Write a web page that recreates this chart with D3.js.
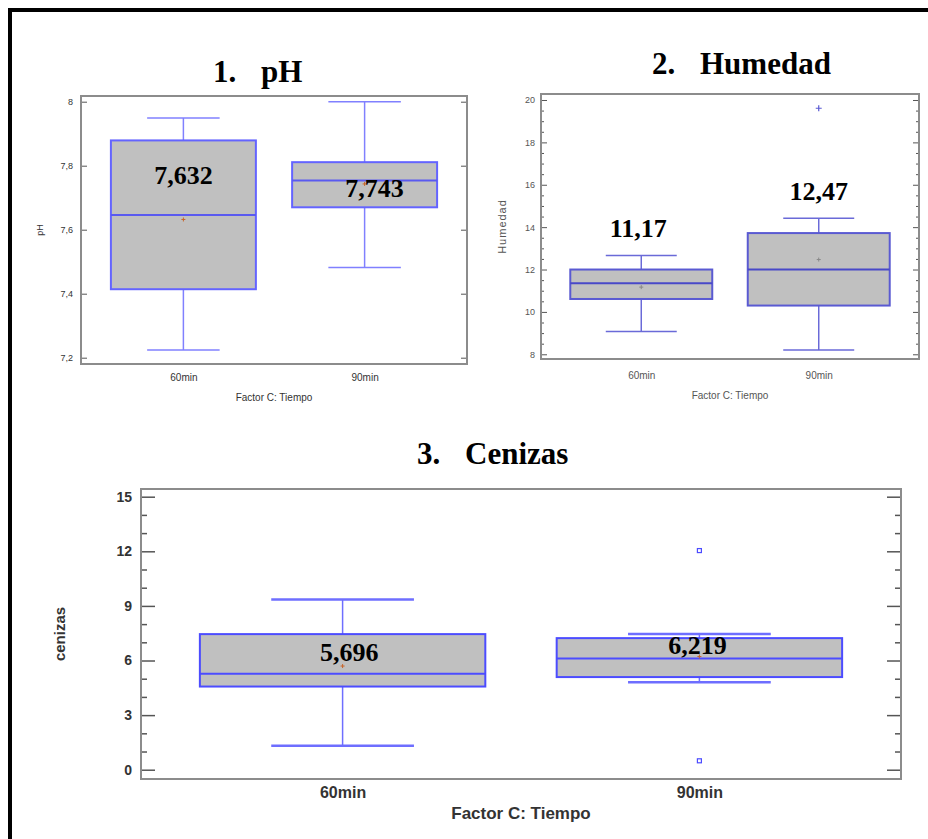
<!DOCTYPE html>
<html>
<head>
<meta charset="utf-8">
<script src="https://cdn.jsdelivr.net/npm/d3@7"></script>
<style>
  body { margin: 0; background: #fff; }
  svg { display: block; }
</style>
</head>
<body>
<svg id="chart" width="928" height="839"></svg>
<script>
const groups = ['60min', '90min'];

// each box: [low whisker, Q1, median, Q3, high whisker]
const phBoxes = [[7.224, 7.414, 7.646, 7.879, 7.949], [7.482, 7.670, 7.754, 7.811, 8.0]];
const phMeans = [7.632, 7.743];
const phOutliers = [[], []];
const phTicks = [7.2, 7.4, 7.6, 7.8, 8];

const humBoxes = [[9.08, 10.61, 11.35, 12.0, 12.66], [8.2, 10.3, 12.0, 13.72, 14.42]];
const humMeans = [11.17, 12.47];
const humOutliers = [[], [19.61]];
const humTicks = [8, 10, 12, 14, 16, 18, 20];

const cenBoxes = [[1.32, 4.57, 5.27, 7.45, 9.35], [4.81, 5.09, 6.11, 7.23, 7.46]];
const cenMeans = [5.696, 6.219];
const cenOutliers = [[], [12.04, 0.49]];
const cenTicks = [0, 3, 6, 9, 12, 15];

const comma = v => String(v).replace('.', ',');

const svg = d3.select('#chart');

// outer document frame (only top and left edges fall inside the page)
svg.append('path')
  .attr('d', 'M10,839V10H928')
  .attr('fill', 'none')
  .attr('stroke', '#000')
  .attr('stroke-width', 4);

function boxChart(cfg) {
  const g = svg.append('g');
  const x = d3.scalePoint().domain(groups).range([cfg.left, cfg.right]).padding(0.565);
  const y = d3.scaleLinear().domain(cfg.domain).range([cfg.bottom, cfg.top]);
  const bw = x.step() * 0.8;
  const cap = bw / 4;

  // title, Word-style numbered heading
  g.append('text')
    .attr('x', cfg.titleX).attr('y', cfg.titleY)
    .attr('font-family', 'Liberation Serif, Times New Roman, serif')
    .attr('font-weight', 'bold').attr('font-size', 31)
    .text(cfg.number);
  g.append('text')
    .attr('x', cfg.titleX + 48).attr('y', cfg.titleY)
    .attr('font-family', 'Liberation Serif, Times New Roman, serif')
    .attr('font-weight', 'bold').attr('font-size', 31)
    .text(cfg.title);

  // left axis with labels, ticks pointing into the plot
  const left = g.append('g')
    .attr('transform', `translate(${cfg.left},0)`)
    .call(d3.axisLeft(y).tickValues(cfg.ticks).tickSize(-cfg.major)
      .tickPadding(cfg.tickPad).tickFormat(comma));
  left.select('.domain').remove();
  left.selectAll('.tick line').attr('stroke', '#555').attr('stroke-width', cfg.tickWidth);
  left.selectAll('.tick text')
    .attr('fill', cfg.textColor)
    .attr('font-family', cfg.font)
    .attr('font-weight', cfg.weight)
    .attr('font-size', cfg.tickFont);

  const right = g.append('g')
    .attr('transform', `translate(${cfg.right},0)`)
    .call(d3.axisRight(y).tickValues(cfg.ticks).tickSize(-cfg.major).tickFormat(''));
  right.select('.domain').remove();
  right.selectAll('.tick line').attr('stroke', '#555').attr('stroke-width', cfg.tickWidth);

  if (cfg.minorCount) {
    const minor = y.ticks(cfg.minorCount).filter(t => !cfg.ticks.includes(t));
    [[d3.axisLeft, cfg.left], [d3.axisRight, cfg.right]].forEach(([axis, pos]) => {
      const m = g.append('g')
        .attr('transform', `translate(${pos},0)`)
        .call(axis(y).tickValues(minor).tickSize(-cfg.minor).tickFormat(''));
      m.select('.domain').remove();
      m.selectAll('.tick line').attr('stroke', '#555').attr('stroke-width', cfg.tickWidth);
    });
  }

  // category axis
  const bottom = g.append('g')
    .attr('transform', `translate(0,${cfg.bottom})`)
    .call(d3.axisBottom(x).tickSize(0).tickPadding(cfg.catPad));
  bottom.select('.domain').remove();
  bottom.selectAll('.tick text')
    .attr('fill', cfg.textColor)
    .attr('font-family', cfg.font)
    .attr('font-weight', cfg.weight)
    .attr('font-size', cfg.catFont);

  // axis titles
  g.append('text')
    .attr('x', (cfg.left + cfg.right) / 2)
    .attr('y', cfg.bottom + cfg.xTitleOffset)
    .attr('text-anchor', 'middle')
    .attr('fill', cfg.textColor)
    .attr('font-family', cfg.font)
    .attr('font-weight', cfg.weight)
    .attr('font-size', cfg.xTitleFont)
    .text('Factor C: Tiempo');
  g.append('text')
    .attr('transform', `translate(${cfg.yTitleX},${(cfg.top + cfg.bottom) / 2}) rotate(-90)`)
    .attr('text-anchor', 'middle')
    .attr('dominant-baseline', 'central')
    .attr('fill', cfg.textColor)
    .attr('font-family', cfg.font)
    .attr('font-weight', cfg.weight)
    .attr('font-size', cfg.yTitleFont)
    .attr('letter-spacing', cfg.yTitleSpacing || 0)
    .text(cfg.yTitle);

  // boxes
  cfg.boxes.forEach((b, i) => {
    const cx = x(groups[i]);
    const [lo, q1, med, q3, hi] = b;
    const bx = g.append('g');
    bx.append('line')
      .attr('x1', cx).attr('x2', cx).attr('y1', y(q3)).attr('y2', y(hi))
      .attr('stroke', cfg.whisker).attr('stroke-width', 1.5);
    bx.append('line')
      .attr('x1', cx).attr('x2', cx).attr('y1', y(q1)).attr('y2', y(lo))
      .attr('stroke', cfg.whisker).attr('stroke-width', 1.5);
    [lo, hi].forEach(v => bx.append('line')
      .attr('x1', cx - cap).attr('x2', cx + cap).attr('y1', y(v)).attr('y2', y(v))
      .attr('stroke', cfg.whisker).attr('stroke-width', cfg.capWidth));
    bx.append('rect')
      .attr('x', cx - bw / 2).attr('width', bw)
      .attr('y', y(q3)).attr('height', y(q1) - y(q3))
      .attr('fill', '#c0c0c0')
      .attr('stroke', cfg.stroke).attr('stroke-width', 2);
    bx.append('line')
      .attr('x1', cx - bw / 2).attr('x2', cx + bw / 2).attr('y1', y(med)).attr('y2', y(med))
      .attr('stroke', cfg.median).attr('stroke-width', 2);
    // mean marker
    const my = y(cfg.means[i]);
    bx.append('path')
      .attr('d', `M${cx - 2},${my}h4M${cx},${my - 2}v4`)
      .attr('stroke', cfg.meanColor).attr('stroke-width', 1);
    // outliers
    cfg.outliers[i].forEach(v => {
      if (cfg.outlierShape === 'square') {
        bx.append('rect')
          .attr('x', cx - 2).attr('y', y(v) - 2).attr('width', 4).attr('height', 4)
          .attr('fill', 'none').attr('stroke', cfg.stroke).attr('stroke-width', 1.2);
      } else {
        bx.append('path')
          .attr('d', `M${cx - 3},${y(v)}h6M${cx},${y(v) - 3}v6`)
          .attr('stroke', cfg.stroke).attr('stroke-width', 1.2);
      }
    });
    // mean value label
    g.append('text')
      .attr('x', cx + cfg.labelDx[i])
      .attr('y', y(cfg.labelAt[i]))
      .attr('text-anchor', 'middle')
      .attr('font-family', 'Liberation Serif, Times New Roman, serif')
      .attr('font-weight', 'bold').attr('font-size', 26)
      .text(comma(cfg.means[i]));
  });

  // plot frame on top
  g.append('rect')
    .attr('x', cfg.left).attr('y', cfg.top)
    .attr('width', cfg.right - cfg.left).attr('height', cfg.bottom - cfg.top)
    .attr('fill', 'none').attr('stroke', '#8c8c8c').attr('stroke-width', 2);
}

const narrow = 'Liberation Sans Narrow, Arial Narrow, Liberation Sans, Arial, sans-serif';

boxChart({
  number: '1.', title: 'pH', titleX: 213, titleY: 82,
  left: 81, right: 467, top: 96, bottom: 364, domain: [7.1803, 8.0178],
  boxes: phBoxes, means: phMeans, outliers: phOutliers, ticks: phTicks,
  major: 6, minorCount: 0, tickWidth: 1, tickPad: 8, tickFont: 9,
  catPad: 10, catFont: 10, xTitleOffset: 37, xTitleFont: 10,
  yTitle: 'pH', yTitleX: 40, yTitleFont: 9,
  font: narrow, weight: 'normal', textColor: '#333',
  stroke: '#6464ff', whisker: '#8080ff', median: '#5a5af0', capWidth: 1.5,
  meanColor: '#c86428', outlierShape: 'plus',
  labelAt: [7.743, 7.702], labelDx: [0, 10],
});

boxChart({
  number: '2.', title: 'Humedad', titleX: 652, titleY: 74,
  left: 541, right: 919, top: 94, bottom: 359, domain: [7.778, 20.283],
  boxes: humBoxes, means: humMeans, outliers: humOutliers, ticks: humTicks,
  major: 6, minor: 3, minorCount: 25, tickWidth: 1, tickPad: 6, tickFont: 9,
  catPad: 13, catFont: 10, xTitleOffset: 40, xTitleFont: 10,
  yTitle: 'Humedad', yTitleX: 502, yTitleFont: 11, yTitleSpacing: 1,
  font: narrow, weight: 'normal', textColor: '#555',
  stroke: '#5a5ad2', whisker: '#6a6ad8', median: '#4848c8', capWidth: 1.5,
  meanColor: '#888', outlierShape: 'plus',
  labelAt: [13.54, 15.28], labelDx: [-3, 0],
});

boxChart({
  number: '3.', title: 'Cenizas', titleX: 417, titleY: 464,
  left: 141, right: 901, top: 489, bottom: 779, domain: [-0.51, 15.423],
  boxes: cenBoxes, means: cenMeans, outliers: cenOutliers, ticks: cenTicks,
  major: 14, minor: 6, minorCount: 16, tickWidth: 1.5, tickPad: 9, tickFont: 14,
  catPad: 8, catFont: 16, xTitleOffset: 40, xTitleFont: 17,
  yTitle: 'cenizas', yTitleX: 59, yTitleFont: 15,
  font: 'Liberation Sans, Arial, sans-serif', weight: 'bold', textColor: '#333',
  stroke: '#4c4cff', whisker: '#6e6eff', median: '#4c4cff', capWidth: 2.5,
  meanColor: '#c86428', outlierShape: 'square',
  labelAt: [6.0, 6.37], labelDx: [6.6, -2],
});
</script>
</body>
</html>
